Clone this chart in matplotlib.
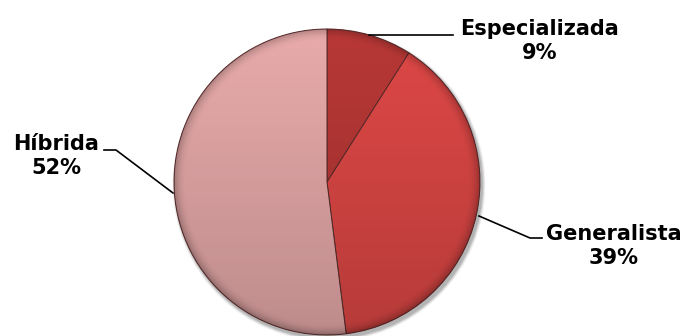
import numpy as np
import matplotlib.pyplot as plt
from matplotlib.patches import Circle

categories = ["Especializada", "Generalista", "Híbrida"]
shares = [9, 39, 52]
colors = ["#B83836", "#DE4846", "#E8AAAA"]

W, H = 686, 336
fig = plt.figure(figsize=(W / 100, H / 100), dpi=100)
ax = fig.add_axes([0, 0, 1, 1])

cx, cy, r = 327, H - 182, 153

# soft drop shadow under the pie
for k, a in zip(range(6, 0, -1), [0.03, 0.04, 0.05, 0.06, 0.07, 0.08]):
    ax.add_patch(Circle((cx + 2, cy - 3), r + k * 0.6, color="black",
                        alpha=a, lw=0, zorder=0))

wedges, _ = ax.pie(shares, colors=colors, startangle=90, counterclock=False,
                   center=(cx, cy), radius=r, frame=True,
                   wedgeprops=dict(edgecolor="#5a2a2a", linewidth=0.7))
for w in wedges:
    w.set_zorder(1)

# shading: darker towards the bottom, darker rim
n = 400
gx, gy = np.meshgrid(np.linspace(-1, 1, n), np.linspace(1, -1, n))
rr = np.hypot(gx, gy)
shade = 0.18 * (1 - gy) / 2
rim = np.clip((rr - 0.92) / 0.08, 0, 1) ** 2 * 0.22
overlay = np.zeros((n, n, 4))
overlay[..., 3] = np.clip(shade + rim, 0, 1)
im = ax.imshow(overlay, extent=(cx - r, cx + r, cy - r, cy + r),
               interpolation="bilinear", zorder=2)
im.set_clip_path(Circle((cx, cy), r, transform=ax.transData))

ax.set_xlim(0, W)
ax.set_ylim(0, H)
ax.set_aspect("equal")
ax.axis("off")

# label text blocks and leader lines (pixel coords, y from top)
label_pos = [(540, 41), (614, 246), (56, 156)]
leaders = [
    [(369, 35), (453, 35)],
    [(479, 216), (530, 238), (542, 238)],
    [(173, 193), (116, 150), (104, 150)],
]
for cat, val, (tx, ty), pts in zip(categories, shares, label_pos, leaders):
    ax.text(tx, H - ty, f"{cat}\n{val}%", ha="center", va="center",
            multialignment="center", fontsize=15, fontweight="bold",
            linespacing=1.2, color="black", zorder=5)
    xs = [p[0] for p in pts]
    ys = [H - p[1] for p in pts]
    ax.plot(xs, ys, color="black", linewidth=1.2, zorder=5)

fig.savefig("out.png", dpi=100)
